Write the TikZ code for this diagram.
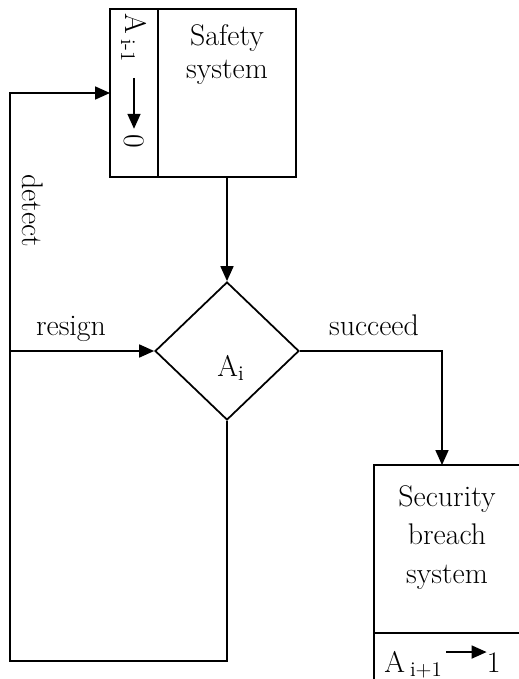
\documentclass[tikz,border=0pt]{standalone}
\usepackage{tikz}
\usetikzlibrary{arrows.meta,positioning,shapes.geometric}

\tikzset{
  sysbox/.style={draw=black,line width=1pt,inner sep=0pt,outer sep=0pt},
  cellbox/.style={draw=black,line width=1pt,inner sep=0pt,outer sep=0pt},
  decision/.style={diamond,draw=black,line width=1pt,inner sep=0pt,
                   minimum width=2.88cm,minimum height=2.76cm},
  txt/.style={font=\fontsize{17}{19}\selectfont,inner sep=0pt,align=center},
  flowarr/.style={-{Triangle[length=0.3cm,width=0.26cm]},line width=1pt}
}

\begin{document}
\begin{tikzpicture}[x=0.02cm,y=-0.02cm]
  \useasboundingbox (0,0) rectangle (518,679);

  % safety system and its reset cell
  \node[sysbox,minimum width=2.76cm,minimum height=3.36cm] (safety) at (227,93) {};
  \node[cellbox,minimum width=0.96cm,minimum height=3.36cm,left=0pt of safety] (gate) {};
  \node[txt,anchor=north,font=\fontsize{17}{18.8}\selectfont] (safetytxt) at (227,24)
    {Safety\\system};
  \node[txt,rotate=-90] (aold) at (134,38) {A\,\textsubscript{i-1}};
  \node[txt,rotate=-90] (zero) at (134,141) {0};
  \draw[flowarr,shorten <=0.3cm,shorten >=0.1cm] (aold) -- (zero);

  % decision
  \node[decision] (dia) at (227,351) {};
  \node[txt] (ai) at (231,368) {A\textsubscript{i}};

  % security breach system and its set cell
  \node[sysbox,minimum width=2.92cm,minimum height=3.36cm] (secure) at (447,549) {};
  \node[cellbox,minimum width=2.92cm,minimum height=1.74cm,below=0pt of secure] (setone) {};
  \node[txt,anchor=north,font=\fontsize{17}{21.9}\selectfont] (securetxt) at (447,485)
    {Security\\breach\\system};
  \node[txt,anchor=base west] (anew) at (384,672) {A\,\textsubscript{i+1}};
  \node[txt,anchor=base east] (one) at (501,672) {1};
  \draw[flowarr,shorten <=0.06cm]
    ([yshift=-0.03cm]anew.north east) -- ([yshift=-0.03cm]anew.north east -| one.west);

  % connectors
  \coordinate (loopbl) at (10,661);
  \coordinate (resignin) at (10,351);
  \draw[flowarr] (safety) -- (dia);
  \draw[flowarr] (dia.south) |- (loopbl) |- (gate.west);
  \draw[flowarr] (resignin) -- (dia.west);
  \draw[flowarr] (dia.east) -| ([xshift=-0.1cm]secure.north);

  % labels
  \node[txt,rotate=-90] (detect) at (33,211) {detect};
  \node[txt,anchor=base] (resign) at (71,335) {resign};
  \node[txt,anchor=base] (succeed) at (374,335) {succeed};
\end{tikzpicture}
\end{document}
